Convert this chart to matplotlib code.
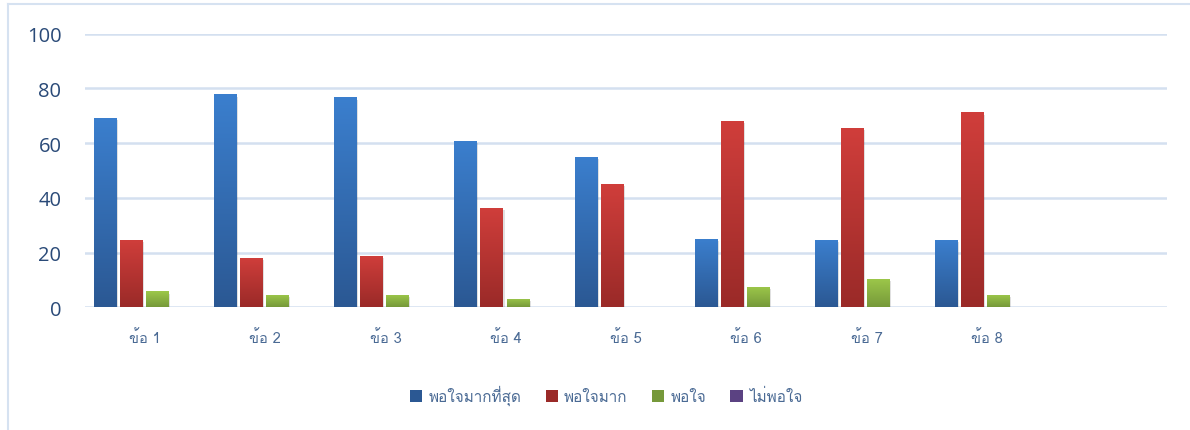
import matplotlib
matplotlib.use("Agg")
import matplotlib.pyplot as plt
import matplotlib.patheffects as pe
from matplotlib import font_manager
from matplotlib.ft2font import FT2Font
from matplotlib.lines import Line2D
import numpy as np

# find an installed family that has Thai glyphs
thai_families = []
for f in font_manager.fontManager.ttflist:
    try:
        if 0x0E01 in FT2Font(f.fname).get_charmap() and f.name not in thai_families:
            thai_families.append(f.name)
    except Exception:
        pass
plt.rcParams['font.family'] = thai_families + ['DejaVu Sans']

categories = ['ข้อ 1', 'ข้อ 2', 'ข้อ 3', 'ข้อ 4', 'ข้อ 5', 'ข้อ 6', 'ข้อ 7', 'ข้อ 8']
series_names = ['พอใจมากที่สุด', 'พอใจมาก', 'พอใจ', 'ไม่พอใจ']
most_satisfied = [69.3, 77.8, 76.7, 60.9, 55.1, 24.9, 24.5, 24.5]
very_satisfied = [24.5, 18.0, 18.7, 36.2, 45.0, 68.0, 65.4, 71.2]
satisfied = [5.8, 4.5, 4.5, 3.0, 0.0, 7.4, 10.3, 4.5]
not_satisfied = [0, 0, 0, 0, 0, 0, 0, 0]
y_ticks = [0, 20, 40, 60, 80, 100]

# (top colour, bottom colour) for the gradient fill
colors = [('#3b7fce', '#2b5893'),
          ('#d03e3b', '#9a2a28'),
          ('#9dc84a', '#76993a'),
          ('#8064a8', '#5b4282')]

fig = plt.figure(figsize=(11.9, 4.31), dpi=100)
ax = fig.add_axes([85 / 1190, 1 - 308.3 / 431, (1167 - 85) / 1190, (308.3 - 34.7) / 431])

x = np.arange(len(categories))
step = 0.2167
width = 0.183
all_series = [most_satisfied, very_satisfied, satisfied, not_satisfied]
grad = np.linspace(0, 1, 256).reshape(-1, 1)

for i, vals in enumerate(all_series):
    top, bot = colors[i]
    cmap = matplotlib.colors.LinearSegmentedColormap.from_list('g%d' % i, [bot, top])
    bars = ax.bar(x + (i - 1.55) * step, vals, width, color=top, zorder=3,
                  linewidth=0,
                  path_effects=[pe.SimplePatchShadow(offset=(1.5, -1.5), shadow_rgbFace='#000000', alpha=0.12),
                                pe.Normal()])
    for b in bars:
        h = b.get_height()
        if h <= 0:
            continue
        im = ax.imshow(grad, cmap=cmap, aspect='auto', origin='lower',
                       extent=[b.get_x(), b.get_x() + b.get_width(), 0, h], zorder=4)
        im.set_clip_path(b)

ax.set_xlim(-0.5, 8.5)
ax.set_ylim(0, 100)
ax.set_yticks(y_ticks)
ax.set_yticklabels([str(t) for t in y_ticks], fontsize=14.5, color='#2a4a78',
                   family=['Open Sans', 'DejaVu Sans'])
ax.set_xticks(x)
ax.set_xticklabels(categories, fontsize=10.5, color='#4a6a94')
ax.tick_params(axis='y', length=0, pad=17)
ax.tick_params(axis='x', length=0, pad=16)
for s in ax.spines.values():
    s.set_visible(False)
ax.yaxis.grid(True, color='#d4e0f0', linewidth=1.8, zorder=0)
ax.set_axisbelow(True)

handles = [plt.Rectangle((0, 0), 1, 1, facecolor=c[1], edgecolor='none') for c in colors]
fig.legend(handles, series_names, loc='center', bbox_to_anchor=(606 / 1190, 1 - 396 / 431),
           ncol=4, frameon=False, fontsize=11, handlelength=0.8, handleheight=0.8,
           handletextpad=0.4, columnspacing=1.6, labelcolor='#4a6a94')

# outer chart frame (top and left edges visible)
fig.add_artist(Line2D([8 / 1190, 1], [1 - 5 / 431, 1 - 5 / 431], transform=fig.transFigure,
                      color='#d6e2f1', linewidth=1.5))
fig.add_artist(Line2D([8 / 1190, 8 / 1190], [0, 1 - 5 / 431], transform=fig.transFigure,
                      color='#d6e2f1', linewidth=1.5))

fig.savefig('out.png', dpi=100)
